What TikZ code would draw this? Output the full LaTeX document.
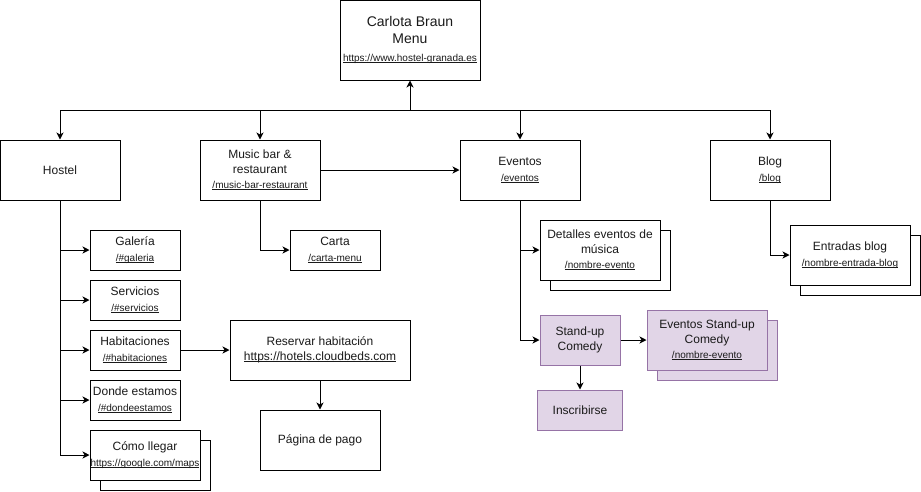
\documentclass[tikz,border=0pt]{standalone}
\usepackage{fontspec}
\setmainfont{Liberation Sans}
\usetikzlibrary{arrows.meta}
\definecolor{pfill}{HTML}{E1D5E7}
\definecolor{pdraw}{HTML}{9673A6}
\definecolor{txt}{HTML}{1A1A1A}
\newcommand{\ulink}[1]{\leavevmode\setbox0\hbox{#1}\rlap{\rule[-1.3pt]{\wd0}{0.6pt}}\box0}
\newcommand{\smurl}[1]{{\fontsize{10}{12}\selectfont\ulink{#1}}}
\tikzset{
  box/.style={draw=black, line width=1pt, fill=white, inner sep=0pt, align=center, text=txt,
    font=\fontsize{12}{14.5}\selectfont},
  pbox/.style={box, draw=pdraw, fill=pfill},
  arr/.style={line width=1pt, -{Stealth[length=7pt,width=7pt,inset=2pt]}},
}
\begin{document}
\begin{tikzpicture}[x=1pt,y=-1pt]
\useasboundingbox (0,0) rectangle (921,491);
% top
\node[box, minimum width=140pt, minimum height=80pt, font=\fontsize{14}{17}\selectfont] (top) at (410,40)
  {Carlota Braun\\Menu\\[1pt]\smurl{https://www.hostel-granada.es}};
% level 1
\node[box, minimum width=120pt, minimum height=60pt] (hostel) at (60,170) {Hostel};
\node[box, minimum width=120pt, minimum height=60pt] (music) at (260,170)
  {Music bar \&\\restaurant\\[1pt]\smurl{/music-bar-restaurant}};
\node[box, minimum width=120pt, minimum height=60pt] (eventos) at (520,170)
  {Eventos\\[2pt]\smurl{/eventos}};
\node[box, minimum width=120pt, minimum height=60pt] (blog) at (770,170)
  {Blog\\[2pt]\smurl{/blog}};
% hostel children
\node[box, minimum width=90pt, minimum height=40pt] (galeria) at (135,250) {Galería\\[1pt]\smurl{/\#galeria}};
\node[box, minimum width=90pt, minimum height=40pt] (servicios) at (135,300) {Servicios\\[1pt]\smurl{/\#servicios}};
\node[box, minimum width=90pt, minimum height=40pt] (habit) at (135,350) {Habitaciones\\[1pt]\smurl{/\#habitaciones}};
\node[box, minimum width=90pt, minimum height=40pt] (donde) at (135,400) {Donde estamos\\[1pt]\smurl{/\#dondeestamos}};
\node[box, minimum width=110pt, minimum height=50pt] (comoback) at (155,465) {};
\node[box, minimum width=110pt, minimum height=50pt] (como) at (145,455) {Cómo llegar\\[1pt]\smurl{https://google.com/maps}};
\node[box, minimum width=180pt, minimum height=60pt] (reservar) at (320,350)
  {Reservar habitación\\\ulink{https://hotels.cloudbeds.com}};
\node[box, minimum width=120pt, minimum height=60pt] (pago) at (320,440) {Página de pago};
% music children
\node[box, minimum width=90pt, minimum height=40pt] (carta) at (335,250) {Carta\\[1pt]\smurl{/carta-menu}};
% eventos children
\node[box, minimum width=120pt, minimum height=60pt] (detback) at (610,260) {};
\node[box, minimum width=120pt, minimum height=60pt] (detalles) at (600,250)
  {Detalles eventos de\\música\\[1pt]\smurl{/nombre-evento}};
\node[pbox, minimum width=80pt, minimum height=50pt] (standup) at (580,340) {Stand-up\\Comedy};
\node[pbox, minimum width=85pt, minimum height=40pt] (inscr) at (580,410) {Inscribirse};
\node[pbox, minimum width=120pt, minimum height=60pt] (evsback) at (717,350) {};
\node[pbox, minimum width=120pt, minimum height=60pt] (evs) at (707,340)
  {Eventos Stand-up\\Comedy\\[1pt]\smurl{/nombre-evento}};
% blog children
\node[box, minimum width=120pt, minimum height=60pt] (entback) at (860,265) {};
\node[box, minimum width=120pt, minimum height=60pt] (entradas) at (850,255)
  {Entradas blog\\[2pt]\smurl{/nombre-entrada-blog}};
% connectors
\coordinate (bus) at (410,110);
\draw[arr] (bus) -- (top.south);
\draw[arr] (bus) -| (hostel.north);
\draw[arr] (bus) -| (music.north);
\draw[arr] (bus) -| (eventos.north);
\draw[arr] (bus) -| (blog.north);
\draw[arr] (music.east) -- (eventos.west);
\draw[arr] (hostel.south) |- (galeria.west);
\draw[arr] (hostel.south) |- (servicios.west);
\draw[arr] (hostel.south) |- (habit.west);
\draw[arr] (hostel.south) |- (donde.west);
\draw[arr] (hostel.south) |- (como.west);
\draw[arr] (habit.east) -- (reservar.west);
\draw[arr] (reservar.south) -- (pago.north);
\draw[arr] (music.south) |- (carta.west);
\draw[arr] (eventos.south) |- (detalles.west);
\draw[arr] (eventos.south) |- (standup.west);
\draw[arr] (standup.east) -- (evs.west);
\draw[arr] (standup.south) -- (inscr.north);
\draw[arr] (blog.south) |- (entradas.west);
\end{tikzpicture}
\end{document}
